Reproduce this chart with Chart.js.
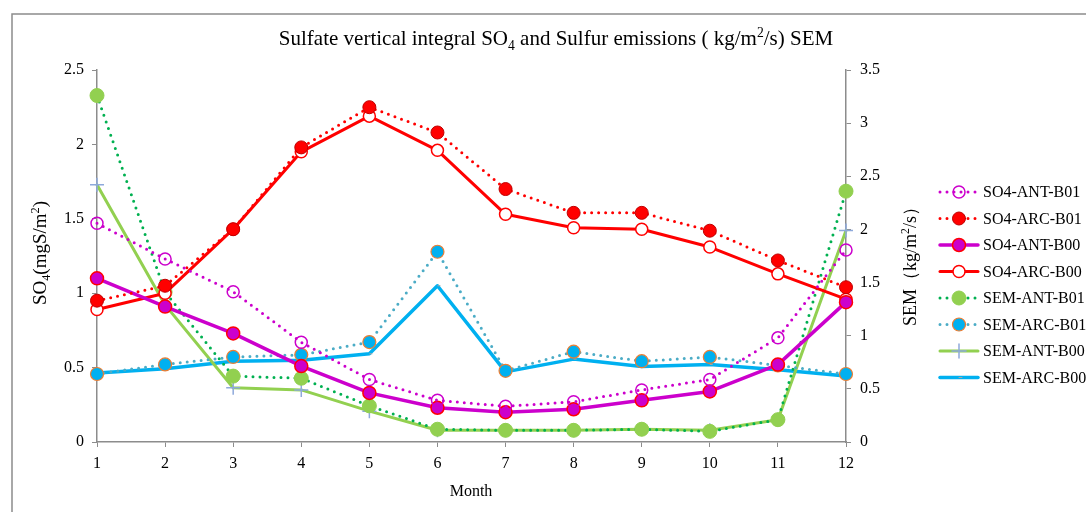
<!DOCTYPE html>
<html>
<head>
<meta charset="utf-8">
<script src="https://cdn.jsdelivr.net/npm/chart.js@4/dist/chart.umd.min.js"></script>
<style>
  html, body { margin: 0; padding: 0; background: #fff; }
</style>
</head>
<body>
<canvas id="sulfate-chart" width="1086" height="512"></canvas>
<script>
let months = ["1", "2", "3", "4", "5", "6", "7", "8", "9", "10", "11", "12"];

// SO4 series (left axis, mgS/m2)
let so4AntB01 = [1.47, 1.23, 1.01, 0.67, 0.42, 0.28, 0.24, 0.27, 0.35, 0.42, 0.70, 1.29];
let so4ArcB01 = [0.95, 1.05, 1.43, 1.98, 2.25, 2.08, 1.70, 1.54, 1.54, 1.42, 1.22, 1.04];
let so4AntB00 = [1.10, 0.91, 0.73, 0.51, 0.33, 0.23, 0.20, 0.22, 0.28, 0.34, 0.52, 0.94];
let so4ArcB00 = [0.89, 1.00, 1.43, 1.95, 2.19, 1.96, 1.53, 1.44, 1.43, 1.31, 1.13, 0.96];

// SEM series (right axis, kg/m2/s)
let semAntB01 = [3.26, 1.41, 0.62, 0.60, 0.34, 0.12, 0.11, 0.11, 0.12, 0.10, 0.21, 2.36];
let semArcB01 = [0.64, 0.73, 0.80, 0.82, 0.94, 1.79, 0.67, 0.85, 0.76, 0.80, 0.72, 0.64];
let semAntB00 = [2.42, 1.29, 0.51, 0.49, 0.29, 0.11, 0.11, 0.11, 0.12, 0.11, 0.21, 1.99];
let semArcB00 = [0.65, 0.69, 0.76, 0.77, 0.83, 1.47, 0.66, 0.78, 0.71, 0.73, 0.68, 0.62];

let serif = "'Liberation Serif', 'Times New Roman', serif";
let dots = [0, 7];

// draws text with sub/superscript pieces, centred on x
function drawRich(ctx, parts, x, y, size) {
    let total = 0;
    parts.forEach(function(p) {
        ctx.font = (p.s ? size * 0.65 : size) + "px " + serif;
        p.w = ctx.measureText(p.t).width;
        total += p.w;
    });
    let cx = x - total / 2;
    ctx.textAlign = "left";
    ctx.textBaseline = "alphabetic";
    parts.forEach(function(p) {
        ctx.font = (p.s ? size * 0.65 : size) + "px " + serif;
        let dy = p.s === -1 ? size * 0.22 : (p.s === 1 ? -size * 0.38 : 0);
        ctx.fillText(p.t, cx, y + dy);
        cx += p.w;
    });
}

let decor = {
    id: "decor",
    beforeDraw(chart) {
        let ctx = chart.ctx;
        ctx.save();
        ctx.fillStyle = "#fff";
        ctx.fillRect(0, 0, chart.width, chart.height);
        ctx.strokeStyle = "#8c8c8c";
        ctx.lineWidth = 1.5;
        ctx.strokeRect(12, 14, 2000, 2000);
        ctx.restore();
    },
    afterDraw(chart) {
        let ctx = chart.ctx;
        ctx.save();
        ctx.fillStyle = "#000";

        drawRich(ctx, [
            {t: "Sulfate vertical integral SO"}, {t: "4", s: -1},
            {t: " and Sulfur emissions ( kg/m"}, {t: "2", s: 1}, {t: "/s) SEM"}
        ], 556, 45, 21);

        ctx.save();
        ctx.translate(46, 253);
        ctx.rotate(-Math.PI / 2);
        drawRich(ctx, [{t: "SO"}, {t: "4", s: -1}, {t: "(mgS/m"}, {t: "2", s: 1}, {t: ")"}], 0, 0, 19);
        ctx.restore();

        ctx.save();
        ctx.translate(916, 262);
        ctx.rotate(-Math.PI / 2);
        drawRich(ctx, [{t: "SEM（kg/m"}, {t: "2", s: 1}, {t: "/s）"}], 0, 0, 18);
        ctx.restore();

        drawRich(ctx, [{t: "Month"}], 471, 496, 16);

        // legend
        chart.data.datasets.forEach(function(ds, i) {
            let y = 192 + i * 26.5;
            ctx.save();
            ctx.strokeStyle = ds.borderColor;
            ctx.lineWidth = ds.borderWidth;
            ctx.lineCap = "round";
            ctx.setLineDash(ds.borderDash || []);
            ctx.beginPath();
            ctx.moveTo(940, y);
            ctx.lineTo(978, y);
            ctx.stroke();
            ctx.setLineDash([]);
            ctx.fillStyle = ds.pointBackgroundColor;
            ctx.strokeStyle = ds.pointBorderColor;
            ctx.lineWidth = ds.pointBorderWidth;
            Chart.helpers.drawPoint(ctx, {
                pointStyle: ds.pointStyle, radius: ds.pointRadius, rotation: 0, borderWidth: ds.pointBorderWidth
            }, 959, y);
            ctx.restore();
            ctx.fillStyle = "#000";
            ctx.font = "16px " + serif;
            ctx.textAlign = "left";
            ctx.textBaseline = "middle";
            ctx.fillText(ds.label, 983, y + 1);
        });
        ctx.restore();
    }
};

function series(label, data, axis, line, lineWidth, dashed, pStyle, pRadius, pFill, pEdge, pEdgeWidth) {
    return {
        label: label,
        data: data,
        yAxisID: axis,
        borderColor: line,
        borderWidth: lineWidth,
        borderDash: dashed ? dots : [],
        borderCapStyle: "round",
        borderJoinStyle: "round",
        pointStyle: pStyle,
        pointRadius: pRadius,
        pointBackgroundColor: pFill,
        pointBorderColor: pEdge,
        pointBorderWidth: pEdgeWidth,
        tension: 0,
        fill: false,
        clip: false
    };
}

function plainTick(value) {
    return String(Number(value.toFixed(1)));
}

let ctx = document.getElementById("sulfate-chart").getContext("2d");

let sulfateChart = new Chart(ctx, {
    type: "line",
    data: {
        labels: months,
        datasets: [
            series("SO4-ANT-B01", so4AntB01, "yL", "#cc00cc", 3, true, "circle", 6, "rgba(255,255,255,0)", "#cc00cc", 1.5),
            series("SO4-ARC-B01", so4ArcB01, "yL", "#ff0000", 3, true, "circle", 6.5, "#ff0000", "#c00000", 1),
            series("SO4-ANT-B00", so4AntB00, "yL", "#cc00cc", 3.5, false, "circle", 6.5, "#cc00cc", "#ff0000", 1.5),
            series("SO4-ARC-B00", so4ArcB00, "yL", "#ff0000", 3, false, "circle", 6, "#ffffff", "#ff0000", 1.5),
            series("SEM-ANT-B01", semAntB01, "yR", "#00b050", 3, true, "circle", 7, "#92d050", "#92d050", 1),
            series("SEM-ARC-B01", semArcB01, "yR", "#4bacc6", 3, true, "circle", 6.5, "#00b0f0", "#ed7d31", 1.2),
            series("SEM-ANT-B00", semAntB00, "yR", "#92d050", 3, false, "cross", 7, "#8ea9db", "#8ea9db", 1.5),
            series("SEM-ARC-B00", semArcB00, "yR", "#00b0f0", 3.5, false, "dash", 3, "#a6a6a6", "#a6a6a6", 1)
        ]
    },
    options: {
        responsive: false,
        maintainAspectRatio: false,
        animation: false,
        layout: { padding: { top: 70, left: 0, right: 0, bottom: 0 } },
        plugins: {
            legend: { display: false },
            title: { display: false },
            tooltip: { enabled: false }
        },
        scales: {
            x: {
                type: "category",
                offset: false,
                grid: { drawOnChartArea: false, drawTicks: true, tickLength: 5, color: "#8c8c8c" },
                border: { color: "#8c8c8c", width: 1.5 },
                ticks: { color: "#000", font: { family: serif, size: 16 }, padding: 7, maxRotation: 0 },
                afterFit(scale) { scale.height = 70; }
            },
            yL: {
                position: "left",
                min: 0,
                max: 2.5,
                grid: { drawOnChartArea: false, drawTicks: true, tickLength: 5, color: "#8c8c8c" },
                border: { color: "#8c8c8c", width: 1.5 },
                ticks: { stepSize: 0.5, color: "#000", font: { family: serif, size: 16 }, padding: 8, callback: plainTick },
                afterFit(scale) { scale.width = 97; }
            },
            yR: {
                position: "right",
                min: 0,
                max: 3.5,
                grid: { drawOnChartArea: false, drawTicks: true, tickLength: 5, color: "#8c8c8c" },
                border: { color: "#8c8c8c", width: 1.5 },
                ticks: { stepSize: 0.5, color: "#000", font: { family: serif, size: 16 }, padding: 9, callback: plainTick },
                afterFit(scale) { scale.width = 240; }
            }
        }
    },
    plugins: [decor]
});
</script>
</body>
</html>
